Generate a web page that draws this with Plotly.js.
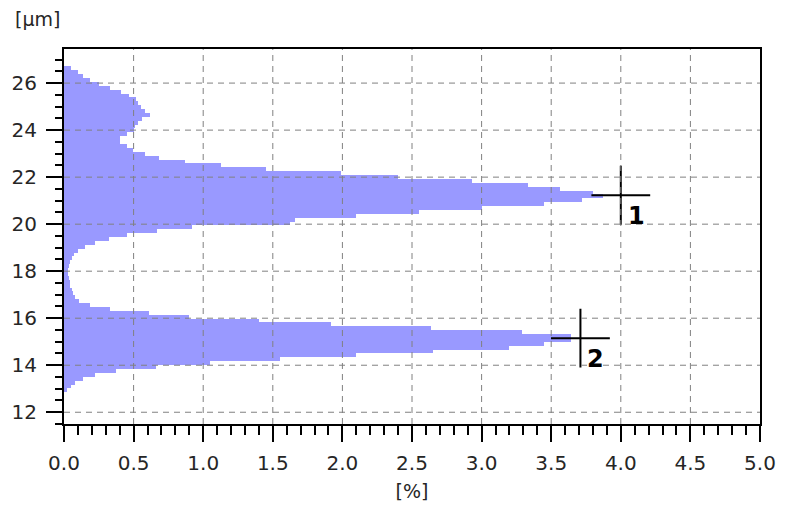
<!DOCTYPE html>
<html>
<head>
<meta charset="utf-8">
<script src="https://cdn.plot.ly/plotly-3.0.1.min.js"></script>
<style>html,body{margin:0;padding:0;background:#fff;}#chart{width:796px;height:506px;}</style>
</head>
<body>
<div id="chart"></div>
<script>
// Bin centres [µm] and share of particles [%]
const binWidth = 0.165;
const sizeUm = [12.9325,13.0975,13.2625,13.4275,13.5925,13.7575,13.9225,14.0875,14.2525,14.4175,
  14.5825,14.7475,14.9125,15.0775,15.2425,15.4075,15.5725,15.7375,15.9025,16.0675,
  16.2325,16.3975,16.5625,16.7275,16.8925,17.0575,17.2225,17.3875,17.5525,17.7175,
  17.8825,18.0475,18.2125,18.3775,18.5425,18.7075,18.8725,19.0375,19.2025,19.3675,
  19.5325,19.6975,19.8625,20.0275,20.1925,20.3575,20.5225,20.6875,20.8525,21.0175,
  21.1825,21.3475,21.5125,21.6775,21.8425,22.0075,22.1725,22.3375,22.5025,22.6675,
  22.8325,22.9975,23.1625,23.3275,23.4925,23.6575,23.8225,23.9875,24.1525,24.3175,
  24.4825,24.6475,24.8125,24.9775,25.1425,25.3075,25.4725,25.6375,25.8025,25.9675,
  26.1325,26.2975,26.4625,26.6275];
const percent = [0.02,0.05,0.08,0.14,0.22,0.37,0.66,1.05,1.55,2.10,
  2.65,3.20,3.45,3.64,3.64,3.29,2.64,1.92,1.40,0.90,
  0.61,0.33,0.19,0.11,0.08,0.065,0.055,0.045,0.04,0.036,
  0.028,0.026,0.035,0.045,0.06,0.075,0.10,0.15,0.22,0.32,
  0.45,0.67,0.92,1.62,1.66,2.10,2.55,3.00,3.45,3.72,
  3.87,3.80,3.56,3.33,2.93,2.40,1.99,1.45,1.13,0.87,
  0.68,0.58,0.495,0.45,0.40,0.40,0.45,0.50,0.51,0.53,
  0.56,0.62,0.58,0.55,0.53,0.52,0.47,0.41,0.33,0.25,
  0.19,0.14,0.10,0.05];

// Peak markers
const peakX = [4.0, 3.71];
const peakY = [21.23, 15.15];
const peakLabels = ['1', '2'];

// Tick labels
const xTickVals = [0,0.5,1,1.5,2,2.5,3,3.5,4,4.5,5];
const xTickText = ['0.0','0.5','1.0','1.5','2.0','2.5','3.0','3.5','4.0','4.5','5.0'];
const yTickVals = [12,14,16,18,20,22,24,26];
const yTickText = ['12','14','16','18','20','22','24','26'];

const xRange = [0, 5];
const yRange = [11.5, 27.45];

const gridStyle = {color:'#808080', width:1, dash:'6px,5px'};
const shapes = [];
xTickVals.filter(v => v > xRange[0] && v < xRange[1]).forEach(v => shapes.push({
  type:'line', xref:'x', yref:'paper', x0:v, x1:v, y0:0, y1:1, layer:'above', line:gridStyle}));
yTickVals.forEach(v => shapes.push({
  type:'line', xref:'paper', yref:'y', x0:0, x1:1, y0:v, y1:v, layer:'above', line:gridStyle}));

const tickFont = {family:'DejaVu Sans', size:20, color:'#262626'};

const data = [
  {type:'bar', orientation:'h', x:percent, y:sizeUm, width:binWidth,
   marker:{color:'#9999ff', line:{width:0}}, hoverinfo:'x+y'},
  {type:'scatter', mode:'markers', x:peakX, y:peakY,
   marker:{symbol:'cross-thin', size:42, color:'#000', line:{width:2, color:'#000'}},
   hoverinfo:'skip'}
];

const annotations = peakLabels.map((t, i) => ({
  x:peakX[i], y:peakY[i], xref:'x', yref:'y', text:t, showarrow:false,
  xanchor:'left', yanchor:'top', xshift:5, yshift:-5,
  font:{family:'DejaVu Sans', size:24, color:'#000', weight:'bold'}
}));
annotations.push({
  text:'[µm]', xref:'paper', yref:'paper', x:-0.0735, y:1.08,
  xanchor:'left', yanchor:'middle', showarrow:false,
  font:{family:'DejaVu Sans', size:19, color:'#262626'}
});

const layout = {
  width:796, height:506,
  margin:{l:64, r:36, t:49, b:82, pad:0},
  paper_bgcolor:'#fff', plot_bgcolor:'#fff',
  showlegend:false, bargap:0,
  xaxis:{range:xRange, tickmode:'array', tickvals:xTickVals, ticktext:xTickText,
    ticks:'outside', ticklen:16, tickwidth:2, tickcolor:'#000', ticklabelstandoff:4,
    showline:true, linecolor:'#000', linewidth:2, mirror:true,
    showgrid:false, zeroline:false, tickfont:tickFont,
    minor:{ticks:'outside', ticklen:9, tickwidth:2, tickcolor:'#000', tick0:0, dtick:0.1, showgrid:false},
    title:{text:'[%]', font:{family:'DejaVu Sans', size:19, color:'#262626'}, standoff:11},
    automargin:false},
  yaxis:{range:yRange, tickmode:'array', tickvals:yTickVals, ticktext:yTickText,
    ticks:'outside', ticklen:16, tickwidth:2, tickcolor:'#000', ticklabelstandoff:5,
    showline:true, linecolor:'#000', linewidth:2, mirror:true,
    showgrid:false, zeroline:false, tickfont:tickFont,
    minor:{ticks:'outside', ticklen:7, tickwidth:2, tickcolor:'#000', tick0:11.5, dtick:0.5, showgrid:false},
    automargin:false},
  shapes:shapes,
  annotations:annotations
};

Plotly.newPlot('chart', data, layout, {displayModeBar:false, staticPlot:true});
</script>
</body>
</html>
